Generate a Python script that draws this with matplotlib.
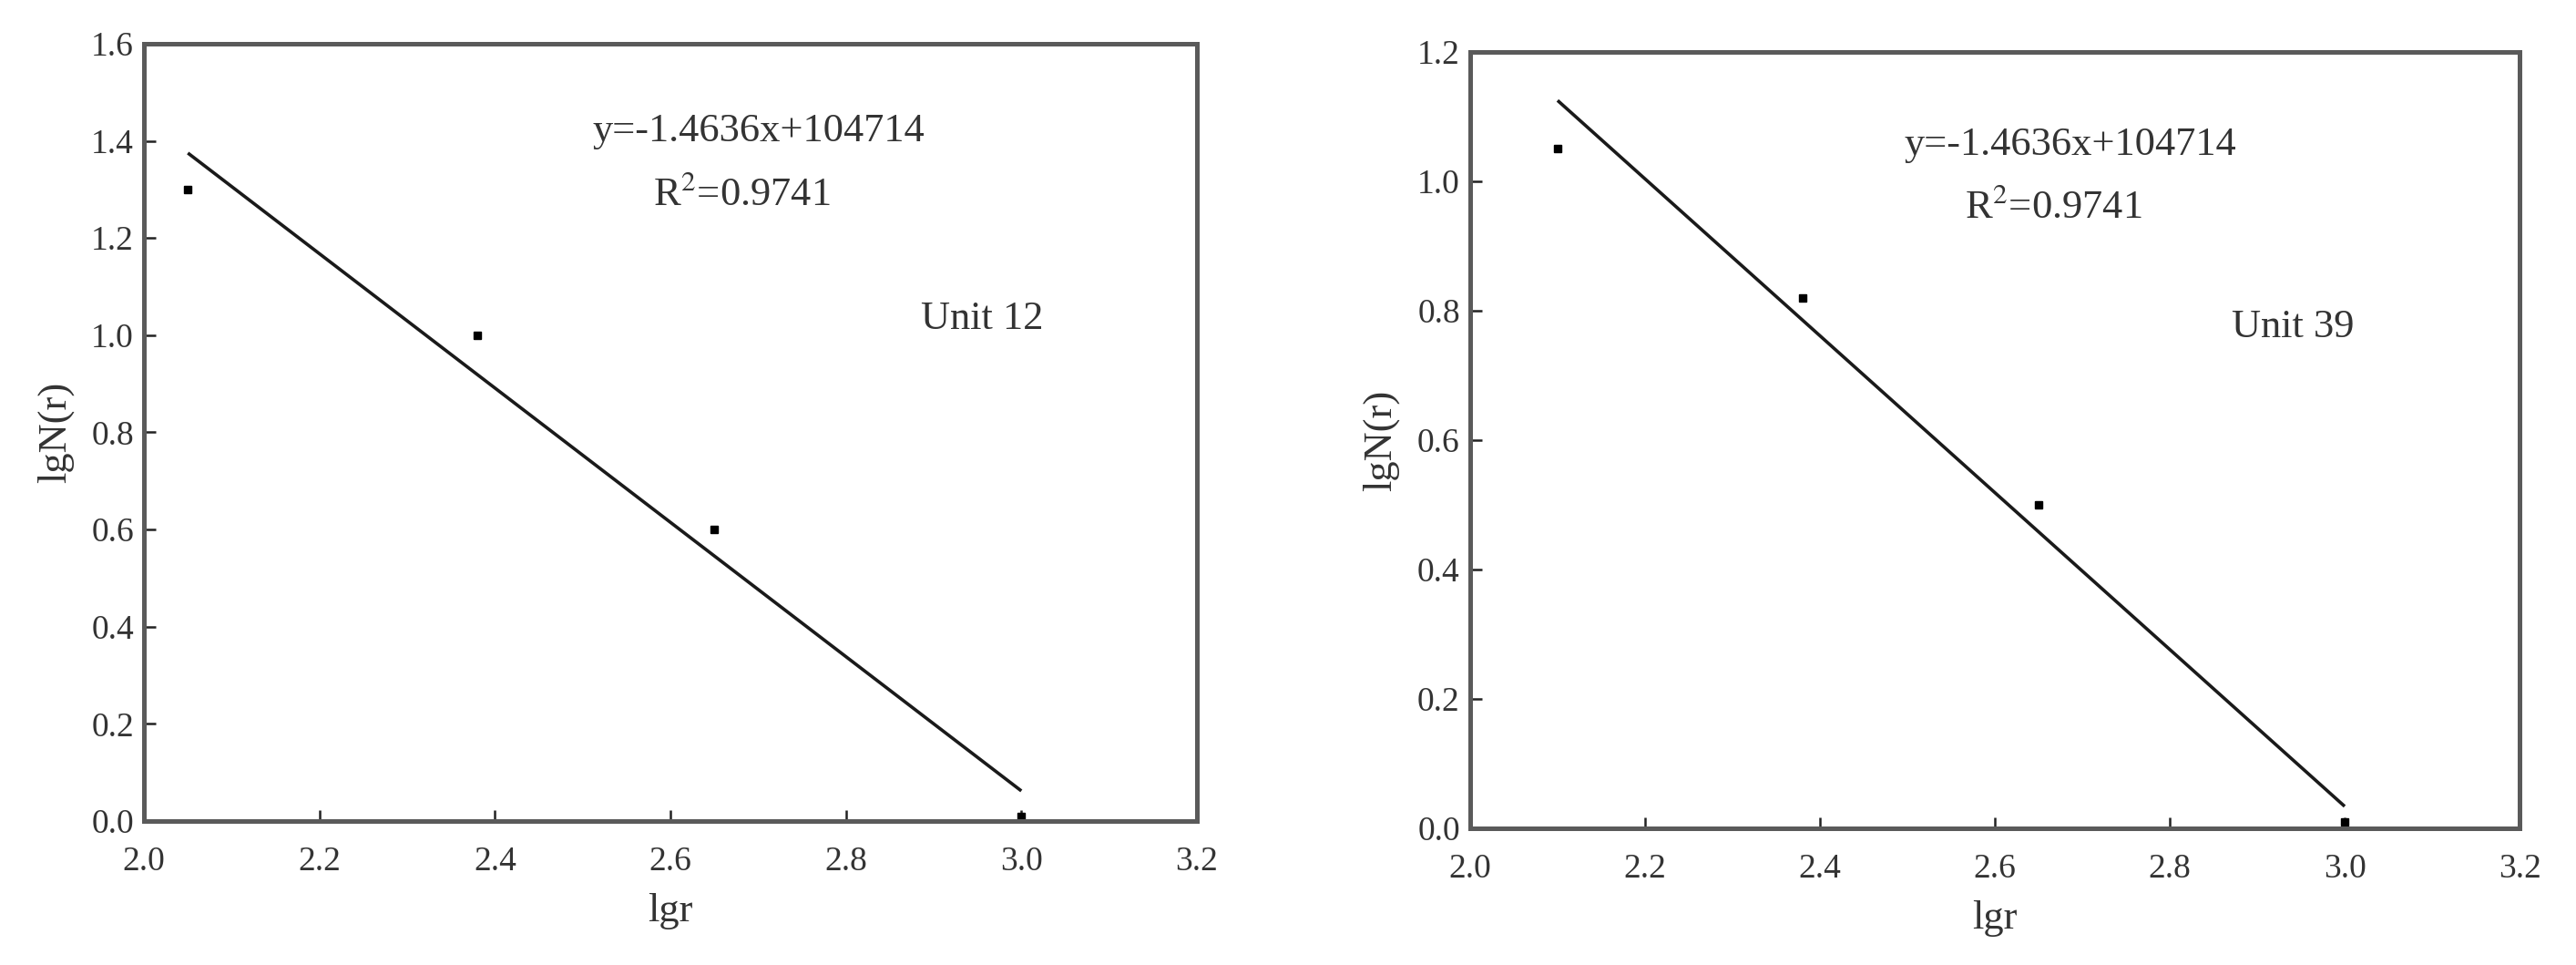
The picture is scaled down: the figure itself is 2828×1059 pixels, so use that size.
import matplotlib
matplotlib.use("Agg")
import matplotlib.pyplot as plt
import numpy as np

# =====================================
# Datos
# =====================================

unidades = ["Unit 12", "Unit 39"]

lgr_12 = [2.05, 2.38, 2.65, 3.00]
lgn_12 = [1.30, 1.00, 0.60, 0.01]
ajuste_x_12 = [2.05, 3.00]
ajuste_y_12 = [1.375, 0.062]

lgr_39 = [2.10, 2.38, 2.65, 3.00]
lgn_39 = [1.05, 0.82, 0.50, 0.01]
ajuste_x_39 = [2.10, 3.00]
ajuste_y_39 = [1.125, 0.034]

ecuacion = "y=-1.4636x+104714"
r2 = "R$^{2}$=0.9741"

xticks = [2.0, 2.2, 2.4, 2.6, 2.8, 3.0, 3.2]
yticks_12 = [0.0, 0.2, 0.4, 0.6, 0.8, 1.0, 1.2, 1.4, 1.6]
yticks_39 = [0.0, 0.2, 0.4, 0.6, 0.8, 1.0, 1.2]

plt.rcParams["font.family"] = ["Liberation Serif", "DejaVu Serif"]
plt.rcParams["mathtext.fontset"] = "stix"

GRIS = "#5a5a5a"


# =====================================
# Funcion para dibujar un panel
# =====================================

def graficar_panel(ax, x, y, fx, fy, yticks, unidad, pos_texto):
    ax.plot(fx, fy, color="#1a1a1a", linewidth=2.6, solid_capstyle="butt")
    ax.plot(x, y, linestyle="none", marker="s", markersize=6, color="black")

    ax.set_xlim(2.0, 3.2)
    ax.set_ylim(yticks[0], yticks[-1])
    ax.set_xticks(xticks)
    ax.set_yticks(yticks)
    ax.set_xticklabels([f"{t:.1f}" for t in xticks])
    ax.set_yticklabels([f"{t:.1f}" for t in yticks])

    for s in ax.spines.values():
        s.set_linewidth(3.6)
        s.set_color(GRIS)

    ax.tick_params(axis="both", direction="in", length=9, width=1.8,
                   color="#222222", labelsize=27, labelcolor="#333333")
    ax.tick_params(axis="x", pad=20)
    ax.tick_params(axis="y", pad=8)

    ax.set_xlabel("lgr", fontsize=32, color="#333333", labelpad=12)
    ax.set_ylabel("lgN(r)", fontsize=32, color="#333333", labelpad=14)

    ex, ey, rx, ry, ux, uy = pos_texto
    ax.text(ex, ey, ecuacion, transform=ax.transAxes, fontsize=32,
            color="#333333", ha="center", va="center")
    ax.text(rx, ry, r2, transform=ax.transAxes, fontsize=32,
            color="#333333", ha="center", va="center")
    ax.text(ux, uy, unidad, transform=ax.transAxes, fontsize=32,
            color="#333333", ha="center", va="center")


fig = plt.figure(figsize=(28.28, 10.59), dpi=100)
ax1 = fig.add_axes([0.0559, 0.1492, 0.4087, 0.8055])
ax2 = fig.add_axes([0.5707, 0.1416, 0.4074, 0.8046])

graficar_panel(ax1, lgr_12, lgn_12, ajuste_x_12, ajuste_y_12, yticks_12,
               unidades[0], (0.584, 0.888, 0.568, 0.806, 0.796, 0.646))
graficar_panel(ax2, lgr_39, lgn_39, ajuste_x_39, ajuste_y_39, yticks_39,
               unidades[1], (0.572, 0.880, 0.556, 0.800, 0.784, 0.646))

fig.savefig("out.png", dpi=100, facecolor="white")
